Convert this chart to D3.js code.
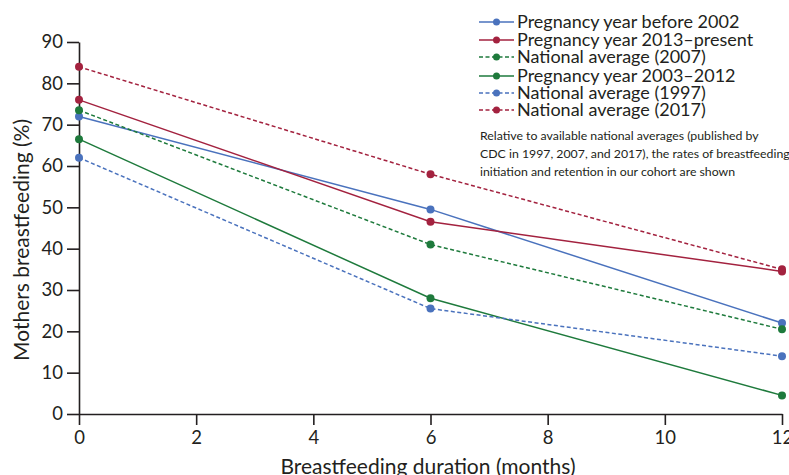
<!doctype html>
<html>
<head>
<meta charset="utf-8">
<title>Breastfeeding duration</title>
<style>
  body { margin: 0; background: #fff; }
  text { font-family: Lato, "Open Sans", sans-serif; fill: #231f20; }
</style>
</head>
<body>
<svg width="789" height="475"></svg>
<script src="https://d3js.org/d3.v7.min.js"></script>
<script>
var months = [0, 6, 12];
var xTicks = [0, 2, 4, 6, 8, 10, 12];
var yTicks = [0, 10, 20, 30, 40, 50, 60, 70, 80, 90];

// series, in legend order
var names = ["Pregnancy year before 2002", "Pregnancy year 2013\u2013present", "National average (2007)",
             "Pregnancy year 2003\u20132012", "National average (1997)", "National average (2017)"];
var before2002 = [72, 49.5, 22];
var y2013present = [76, 46.5, 34.5];
var nat2007 = [73.5, 41, 20.5];
var y2003to2012 = [66.5, 28, 4.5];
var nat1997 = [62, 25.5, 14];
var nat2017 = [84, 58, 35];

var blue = "#4a72bd", red = "#a3223f", green = "#1e7a3c";
var series = [
  {name: names[0], values: before2002, color: blue, dash: null},
  {name: names[1], values: y2013present, color: red, dash: null},
  {name: names[2], values: nat2007, color: green, dash: "4,2.5"},
  {name: names[3], values: y2003to2012, color: green, dash: null},
  {name: names[4], values: nat1997, color: blue, dash: "4,2.5"},
  {name: names[5], values: nat2017, color: red, dash: "4,2.5"}
];

var svg = d3.select("svg");
var x = d3.scaleLinear().domain([0, 12]).range([79, 782]);
var y = d3.scaleLinear().domain([0, 90]).range([414, 42]);

var xAxis = svg.append("g")
    .attr("transform", "translate(0,414)")
    .call(d3.axisBottom(x).tickValues(xTicks).tickSize(11).tickSizeOuter(0).tickPadding(6));
var yAxis = svg.append("g")
    .attr("transform", "translate(79,0)")
    .call(d3.axisLeft(y).tickValues(yTicks).tickSize(12).tickSizeOuter(0).tickPadding(4));

[xAxis, yAxis].forEach(function(a) {
  a.select(".domain").attr("stroke", "#231f20").attr("stroke-width", 1.6);
  a.selectAll(".tick line").attr("stroke", "#231f20").attr("stroke-width", 1.6);
  a.selectAll(".tick text").style("font-size", "18.5px").attr("fill", "#231f20");
});

svg.append("text")
    .attr("x", 428).attr("y", 474)
    .attr("text-anchor", "middle")
    .style("font-size", "21px")
    .text("Breastfeeding duration (months)");

svg.append("text")
    .attr("transform", "translate(29,240) rotate(-90)")
    .attr("text-anchor", "middle")
    .style("font-size", "21px")
    .text("Mothers breastfeeding (%)");

var line = d3.line()
    .x(function(d, i) { return x(months[i]); })
    .y(function(d) { return y(d); });

var g = svg.append("g");
series.forEach(function(s) {
  g.append("path")
      .attr("d", line(s.values))
      .attr("fill", "none")
      .attr("stroke", s.color)
      .attr("stroke-width", 1.5)
      .attr("stroke-dasharray", s.dash);
});
series.forEach(function(s) {
  g.selectAll(null)
    .data(s.values)
    .enter().append("circle")
      .attr("cx", function(d, i) { return x(months[i]); })
      .attr("cy", function(d) { return y(d); })
      .attr("r", 4)
      .attr("fill", s.color);
});

// legend
var legendY = [22, 40, 57, 76, 93, 110];
var legend = svg.append("g");
series.forEach(function(s, i) {
  var row = legend.append("g").attr("transform", "translate(479," + legendY[i] + ")");
  row.append("line")
      .attr("x1", 0).attr("x2", 35)
      .attr("stroke", s.color).attr("stroke-width", 1.5)
      .attr("stroke-dasharray", s.dash);
  row.append("circle").attr("cx", 17.5).attr("r", 3.5).attr("fill", s.color);
  row.append("text")
      .attr("x", 38).attr("dy", "0.35em")
      .style("font-size", "18px")
      .text(s.name);
});

var note = ["Relative to available national averages (published by",
            "CDC in 1997, 2007, and 2017), the rates of breastfeeding",
            "initiation and retention in our cohort are shown"];
svg.append("g").selectAll("text")
  .data(note)
  .enter().append("text")
    .attr("x", 480)
    .attr("y", function(d, i) { return 140 + i * 18; })
    .style("font-size", "12.3px")
    .text(function(d) { return d; });
</script>
</body>
</html>
